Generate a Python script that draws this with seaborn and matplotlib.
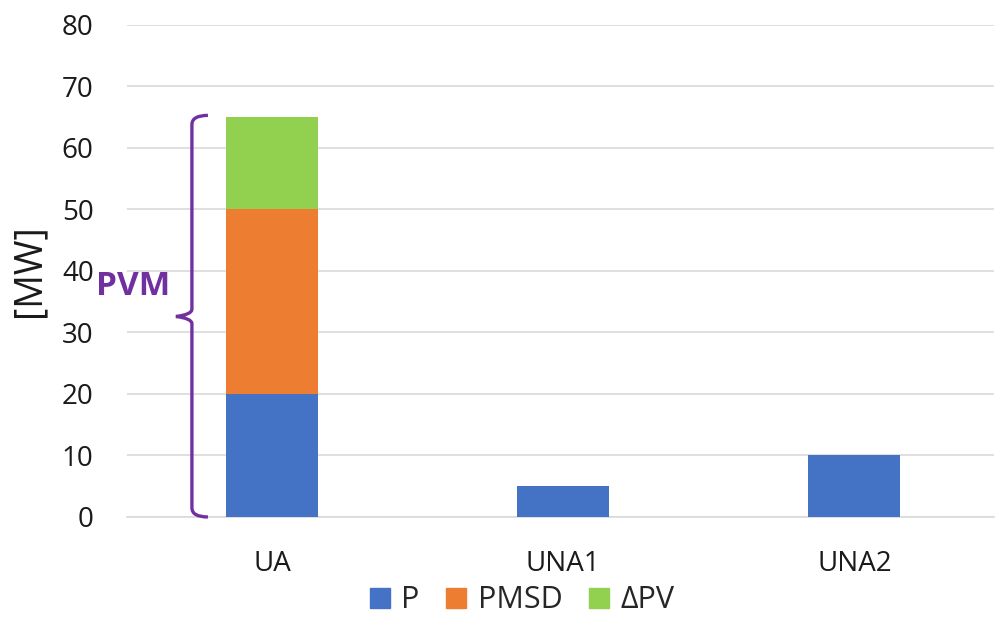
import matplotlib.pyplot as plt
import pandas as pd
import seaborn as sns
from matplotlib.path import Path
from matplotlib.patches import PathPatch
from matplotlib.lines import Line2D

# chart values
units = ["UA", "UNA1", "UNA2"]
p_vals = [20, 5, 10]
pmsd_vals = [30, 0, 0]
dpv_vals = [15, 0, 0]
series_names = ["P", "PMSD", "ΔPV"]
colors = ["#4472C4", "#ED7D31", "#92D050"]
brace_color = "#7030A0"

df = pd.DataFrame({"unit": units, "P": p_vals, "PMSD": pmsd_vals, "dPV": dpv_vals})
df["top1"] = df["P"]
df["top2"] = df["P"] + df["PMSD"]
df["top3"] = df["P"] + df["PMSD"] + df["dPV"]

sns.set_theme(style="white")
plt.rcParams["font.family"] = ["Open Sans", "DejaVu Sans"]

fig = plt.figure(figsize=(9.96, 6.24), dpi=100)
ax = fig.add_axes([0.1275, 0.1715, 0.87, 0.7885])

# stacked bars: draw cumulative totals from the top down
for col, c in zip(["top3", "top2", "top1"], colors[::-1]):
    sns.barplot(data=df, x="unit", y=col, color=c, width=0.315,
                saturation=1, linewidth=0, ax=ax, zorder=3)

ax.set_xlim(-0.498, 2.478)
ax.set_ylim(0, 80)
ax.set_yticks(range(0, 81, 10))
ax.yaxis.grid(True, color="#d9d9d9", linewidth=1.2, zorder=0)
ax.set_axisbelow(True)
for s in ["top", "right", "left"]:
    ax.spines[s].set_visible(False)
ax.spines["bottom"].set_color("#d9d9d9")
ax.spines["bottom"].set_linewidth(1.2)
ax.tick_params(axis="both", length=0, labelsize=20, colors="#1a1a1a")
ax.tick_params(axis="y", pad=24)
ax.tick_params(axis="x", pad=24)
ax.set_xlabel("")
ax.set_ylabel("[MW]", fontsize=27, color="#1a1a1a", labelpad=10)

# curly brace for PVM
x_out, x_in, x_tip = -0.22, -0.275, -0.33
y_top, y_mid, y_bot = 65.3, 32.6, 0.0
verts = [
    (x_out, y_top), (x_in, y_top), (x_in, y_top - 1.5),
    (x_in, y_mid + 1.2), (x_in, y_mid + 0.3), (x_tip, y_mid),
    (x_in, y_mid - 0.3), (x_in, y_mid - 1.2),
    (x_in, y_bot + 1.5), (x_in, y_bot), (x_out, y_bot),
]
codes = [Path.MOVETO, Path.CURVE3, Path.CURVE3,
         Path.LINETO, Path.CURVE3, Path.CURVE3,
         Path.CURVE3, Path.CURVE3,
         Path.LINETO, Path.CURVE3, Path.CURVE3]
ax.add_patch(PathPatch(Path(verts, codes), fill=False, edgecolor=brace_color,
                       linewidth=2.4, clip_on=False, zorder=4))
ax.text(-0.478, 37.4, "PVM", color=brace_color, fontsize=24, fontweight="bold",
        ha="center", va="center", clip_on=False)

handles = [Line2D([0], [0], marker="s", linestyle="", markersize=14,
                  markerfacecolor=c, markeredgecolor=c) for c in colors]
fig.legend(handles, series_names, loc="lower center", ncol=3, frameon=False,
           fontsize=22, bbox_to_anchor=(0.52, -0.03), handletextpad=0.1,
           columnspacing=0.6, handlelength=1.2)

fig.savefig("out.png", dpi=100)
